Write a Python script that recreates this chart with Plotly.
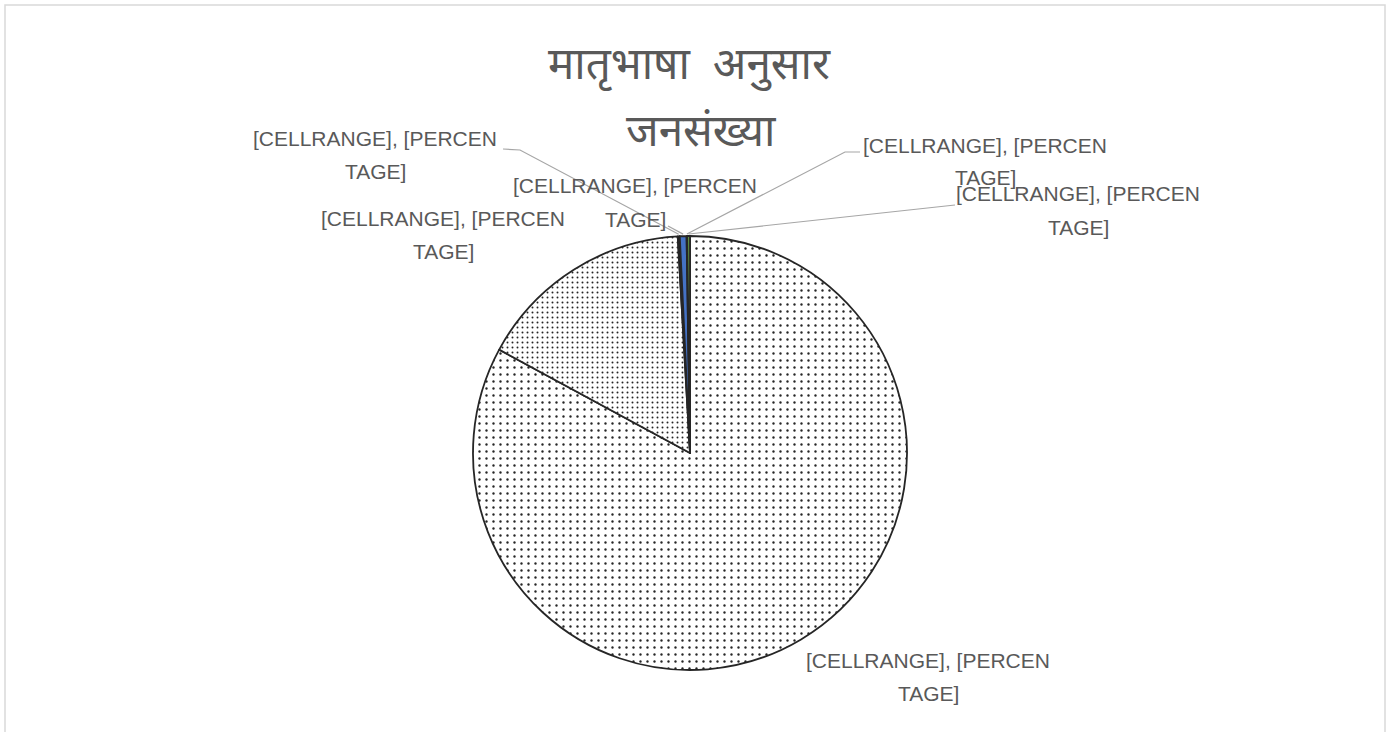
import math
import plotly.graph_objects as go

# ---- data ----
slice_names = ["Slice A", "Slice B", "Slice C", "Slice D", "Slice E", "Slice F"]
slice_values = [82.9, 16.2, 0.15, 0.5, 0.05, 0.2]
label_line1 = ["[CELLRANGE], [PERCEN"] * 6
label_line2 = ["TAGE]"] * 6
title_lines = ["मातृभाषा  अनुसार", "जनसंख्या"]

# ---- styling ----
W, H = 1390, 732
CX, CY, R = 690, 453, 217
colors = ["#ffffff", "#ffffff", "#1a1a1a", "#4472C4", "#333333", "#70AD47"]
pat_shape = [".", ".", "", "", "", ""]
pat_size = [7, 5, 8, 8, 8, 8]
pat_solid = [0.09, 0.12, 0.3, 0.3, 0.3, 0.3]
label_col = "#595959"
lab_font = dict(family="Liberation Sans, Arial, sans-serif", size=21, color=label_col)

def px(x):
    return x / W

def py(y):
    return 1 - y / H

fig = go.Figure()
fig.add_trace(go.Pie(
    labels=slice_names,
    values=slice_values,
    sort=False,
    direction="clockwise",
    rotation=0,
    textinfo="none",
    hoverinfo="skip",
    showlegend=False,
    domain=dict(x=[px(CX - R), px(CX + R)], y=[py(CY + R), py(CY - R)]),
    marker=dict(
        colors=colors,
        line=dict(color="#262626", width=1.8),
        pattern=dict(shape=pat_shape, size=pat_size, solidity=pat_solid,
                     fgcolor="#262626", fillmode="replace"),
    ),
))

# slice mid angles (clockwise from 12 o'clock) computed from data
total = sum(slice_values)
mids = []
acc = 0.0
for v in slice_values:
    mids.append((acc + v / 2) / total * 2 * math.pi)
    acc += v

def edge(i, rr=R):
    a = mids[i]
    return CX + rr * math.sin(a), CY - rr * math.cos(a)

# label placement (layout): centre of first line, and leader line start
label_pos = [(928, 660), (443, 218), (375, 138), (635, 186), (985, 145), (1078, 194)]
line_gap = 33
leader_start = [None, None, [(503, 149), (520, 150)], [(668, 226)],
                [(860, 152), (845, 152)], [(955, 205)]]

shapes = []
for i, pts in enumerate(leader_start):
    if not pts:
        continue
    ex, ey = edge(i, R + 2)
    allpts = pts + [(ex, ey)]
    path = "M " + " L ".join(f"{px(x)},{py(y)}" for x, y in allpts)
    shapes.append(dict(type="path", xref="paper", yref="paper", path=path,
                       line=dict(color="#a6a6a6", width=1.2)))

# chart-area border
shapes.append(dict(type="rect", xref="paper", yref="paper",
                   x0=px(5), x1=px(1385), y0=-0.2, y1=py(5),
                   line=dict(color="#d9d9d9", width=1.5), layer="below"))

annotations = []
for i, (tx, ty) in enumerate(label_pos):
    for k, txt in enumerate((label_line1[i], label_line2[i])):
        annotations.append(dict(x=px(tx), y=py(ty + k * line_gap), xref="paper", yref="paper",
                                text=txt, showarrow=False,
                                xanchor="center", yanchor="middle",
                                font=lab_font, align="center"))

title_font = dict(family="Noto Sans Devanagari, Noto Sans, sans-serif", size=44, color=label_col)
annotations.append(dict(x=px(689), y=py(69), xref="paper", yref="paper", text=title_lines[0],
                        showarrow=False, xanchor="center", yanchor="middle", font=title_font))
annotations.append(dict(x=px(701), y=py(135), xref="paper", yref="paper", text=title_lines[1],
                        showarrow=False, xanchor="center", yanchor="middle", font=title_font))

fig.update_layout(
    width=W, height=H,
    margin=dict(l=0, r=0, t=0, b=0),
    paper_bgcolor="white",
    plot_bgcolor="white",
    shapes=shapes,
    annotations=annotations,
)

fig.write_html("out.html", config={"displayModeBar": False},
               post_script="document.body.style.margin='0';")
